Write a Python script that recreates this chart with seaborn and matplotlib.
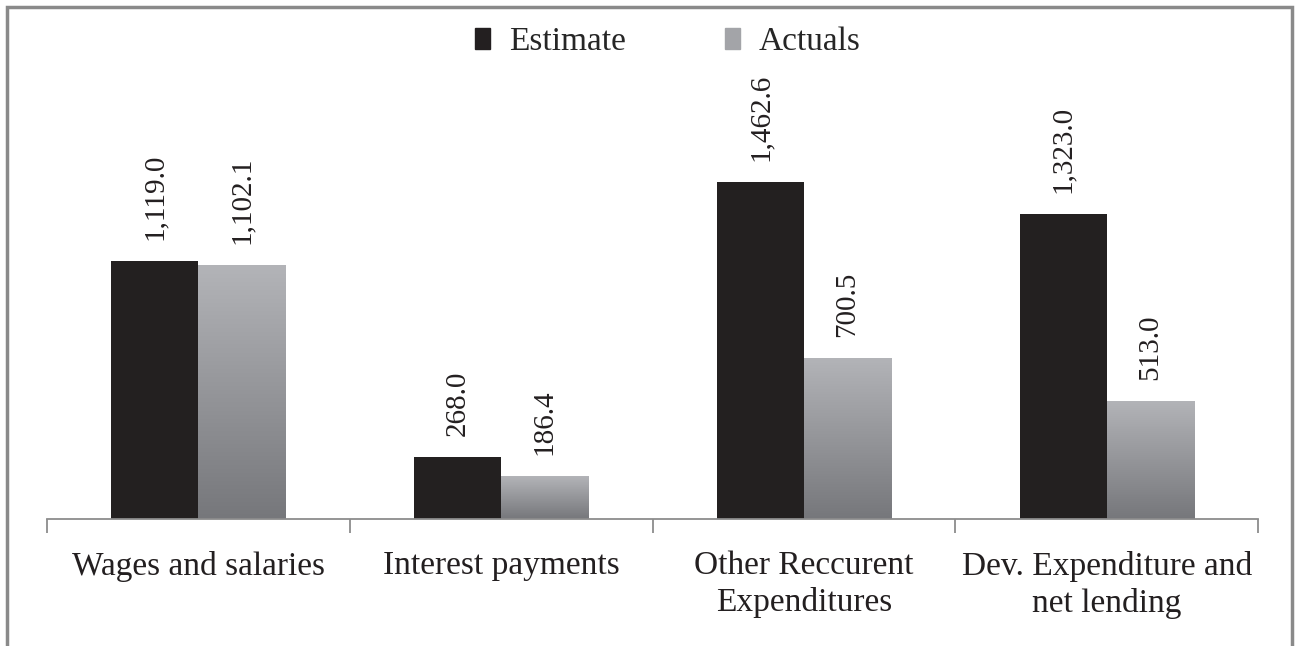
import numpy as np
import pandas as pd
import matplotlib.pyplot as plt
import seaborn as sns
from matplotlib.patches import Rectangle
from matplotlib.colors import LinearSegmentedColormap

categories = ["Wages and salaries", "Interest payments",
              "Other Reccurent\nExpenditures", "Dev. Expenditure and\nnet lending"]
estimate = [1119.0, 268.0, 1462.6, 1323.0]
actuals = [1102.1, 186.4, 700.5, 513.0]
series = ["Estimate", "Actuals"]

df = pd.DataFrame({
    "Category": categories * 2,
    "Value": estimate + actuals,
    "Series": [series[0]] * 4 + [series[1]] * 4,
})

sns.set_style("white")
plt.rcParams['font.family'] = ['Liberation Serif', 'DejaVu Serif']

fig = plt.figure(figsize=(12.97, 6.46), dpi=100)
ax = fig.add_axes([0.0362, 0.1966, 0.9338, 0.772])

sns.barplot(data=df, x="Category", y="Value", hue="Series",
            palette=["#231f20", "#9d9ea2"], width=0.575, ax=ax,
            legend=False, edgecolor="none", linewidth=0)

# gradient fill on the Actuals bars
grad = LinearSegmentedColormap.from_list("g", ["#76777b", "#b3b4b8"])
for cont in ax.containers[1:]:
    for p in cont.patches:
        x0, y0 = p.get_x(), p.get_y()
        w, h = p.get_width(), p.get_height()
        im = ax.imshow(np.linspace(0, 1, 256).reshape(-1, 1), cmap=grad,
                       aspect="auto", origin="lower",
                       extent=[x0, x0 + w, y0, y0 + h], zorder=p.get_zorder() + 0.1)
        im.set_clip_path(p)

for cont in ax.containers:
    ax.bar_label(cont, labels=[f"{v:,.1f}" for v in cont.datavalues],
                 rotation=90, padding=15, fontsize=21, color="#231f20")

ax.set_xlim(-0.5, 3.5)
ax.set_ylim(0, 2164)
ax.set_xlabel("")
ax.set_ylabel("")
ax.set_yticks([])
for s in ["top", "left", "right"]:
    ax.spines[s].set_visible(False)
ax.spines["bottom"].set_color("#8c8c8c")
ax.spines["bottom"].set_linewidth(1.3)

ax.set_xticks(np.arange(-0.5, 4, 1.0), minor=True)
ax.tick_params(axis="x", which="minor", bottom=True, length=10, width=1.3,
               color="#8c8c8c", direction="out")
ax.tick_params(axis="x", which="major", bottom=False, length=0, pad=23,
               labelsize=24, labelcolor="#231f20")
for t in ax.get_xticklabels():
    t.set_linespacing(1.25)

# legend
handles = [Rectangle((0, 0), 1, 1, color="#231f20"), Rectangle((0, 0), 1, 1, color="#a3a4a8")]
fig.legend(handles, series, loc="center", bbox_to_anchor=(0.515, 0.935), ncol=2,
           frameon=False, fontsize=24, handlelength=0.45, handleheight=0.6,
           handletextpad=0.55, columnspacing=3.0)

# outer frame
fig.patches.append(Rectangle((0.0054, -0.05), 0.9907, 1.039, transform=fig.transFigure,
                             fill=False, edgecolor="#8a8a8a", linewidth=2.5))

fig.savefig("out.png", dpi=100)
